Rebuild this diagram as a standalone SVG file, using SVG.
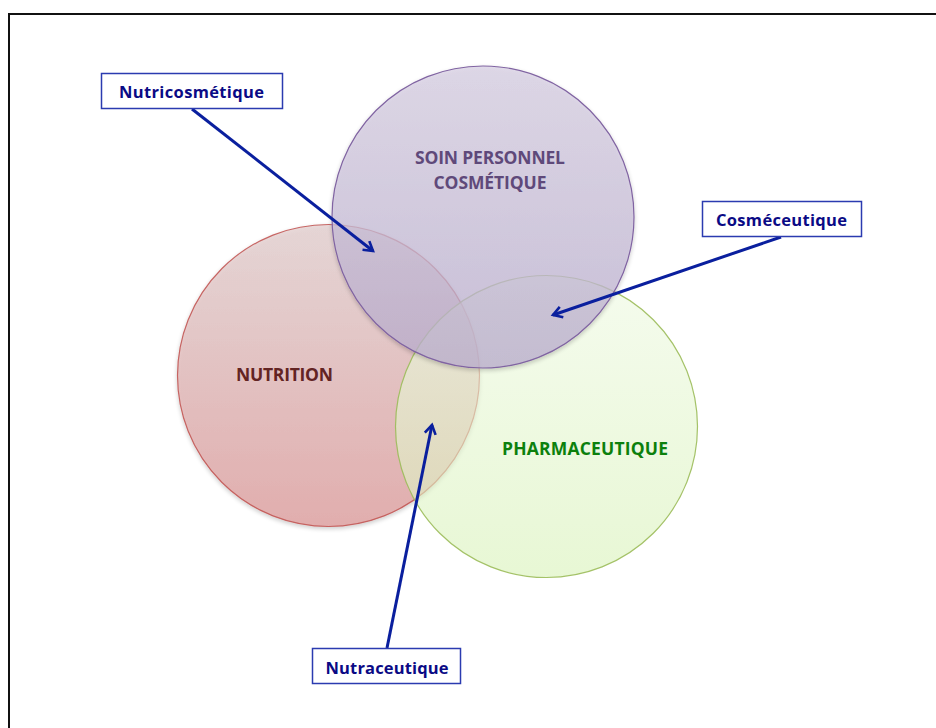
<svg xmlns="http://www.w3.org/2000/svg" width="936" height="728" viewBox="0 0 936 728">
<defs>
<style>
.circ{stroke-width:1.2}
.big{font-family:"Open Sans",Lato,"Liberation Sans",sans-serif;font-weight:bold;font-size:17.5px;text-anchor:middle}
.lbl{font-family:"Open Sans",Lato,"Liberation Sans",sans-serif;font-weight:bold;font-size:16.5px;text-anchor:middle;fill:#0a0a85}
.box{fill:#ffffff;stroke:#2b3bb0;stroke-width:1.5}
.arrow{fill:none;stroke:#0a1f9e;stroke-width:3;marker-end:url(#ah)}
</style>
<linearGradient id="gRed" x1="0" y1="0" x2="0" y2="1">
<stop offset="0" stop-color="#e3cfcf"/>
<stop offset="1" stop-color="#df9a9a"/>
</linearGradient>
<linearGradient id="gGreen" x1="0" y1="0" x2="0" y2="1">
<stop offset="0" stop-color="#eef9e2"/>
<stop offset="1" stop-color="#d8f2b8"/>
</linearGradient>
<linearGradient id="gPurple" x1="0" y1="0" x2="0" y2="1">
<stop offset="0" stop-color="#d8d0e4"/>
<stop offset="1" stop-color="#bcafd0"/>
</linearGradient>
<filter id="sh" x="-10%" y="-10%" width="120%" height="125%">
<feGaussianBlur in="SourceAlpha" stdDeviation="2"/>
<feOffset dx="0" dy="2" result="b"/>
<feComponentTransfer><feFuncA type="linear" slope="0.25"/></feComponentTransfer>
<feMerge><feMergeNode/><feMergeNode in="SourceGraphic"/></feMerge>
</filter>
<marker id="ah" viewBox="0 0 14 14" refX="11" refY="7" markerWidth="14" markerHeight="14" markerUnits="userSpaceOnUse" orient="auto">
<path d="M2,1.5 L11,7 L2,12.5" fill="none" stroke="#0a1f9e" stroke-width="2.6"/>
</marker>
</defs>
<rect width="936" height="728" fill="#ffffff"/>
<path d="M9,740 V14 H945" fill="none" stroke="#111111" stroke-width="2"/>
<g id="nutrition">
<circle class="circ" cx="328.5" cy="375.5" r="151" fill="url(#gRed)" fill-opacity="0.72" stroke="#c0504d" stroke-opacity="0.85" filter="url(#sh)"/>
</g>
<g id="pharmaceutique">
<circle class="circ" cx="546.5" cy="426.5" r="151" fill="url(#gGreen)" fill-opacity="0.6" stroke="#9bbb59" stroke-opacity="0.9"/>
</g>
<g id="soin">
<circle class="circ" cx="483" cy="217" r="151" fill="url(#gPurple)" fill-opacity="0.72" stroke="#8064a2" filter="url(#sh)"/>
</g>
<g id="texts-circles">
<text class="big" x="490" y="164" fill="#5f497a" textLength="150">SOIN PERSONNEL</text>
<text class="big" x="490" y="189" fill="#5f497a" textLength="113">COSMÉTIQUE</text>
<text class="big" x="284.5" y="381" fill="#632423" textLength="97">NUTRITION</text>
<text class="big" x="585" y="455" fill="#0c800c" textLength="166">PHARMACEUTIQUE</text>
</g>
<g id="connectors">
<line class="arrow" x1="192" y1="109" x2="373" y2="251"/>
<line class="arrow" x1="781" y1="237" x2="553" y2="315"/>
<line class="arrow" x1="387" y1="648" x2="432" y2="425"/>
</g>
<g id="nutricosmetique">
<rect class="box" x="101.5" y="73.5" width="181" height="35"/>
<text class="lbl" x="191.5" y="98" textLength="145">Nutricosmétique</text>
</g>
<g id="cosmeceutique">
<rect class="box" x="702.5" y="201.5" width="159" height="35"/>
<text class="lbl" x="781.5" y="226" textLength="131">Cosméceutique</text>
</g>
<g id="nutraceutique">
<rect class="box" x="312.5" y="648.5" width="148" height="35"/>
<text class="lbl" x="387" y="674" textLength="123">Nutraceutique</text>
</g>
</svg>
